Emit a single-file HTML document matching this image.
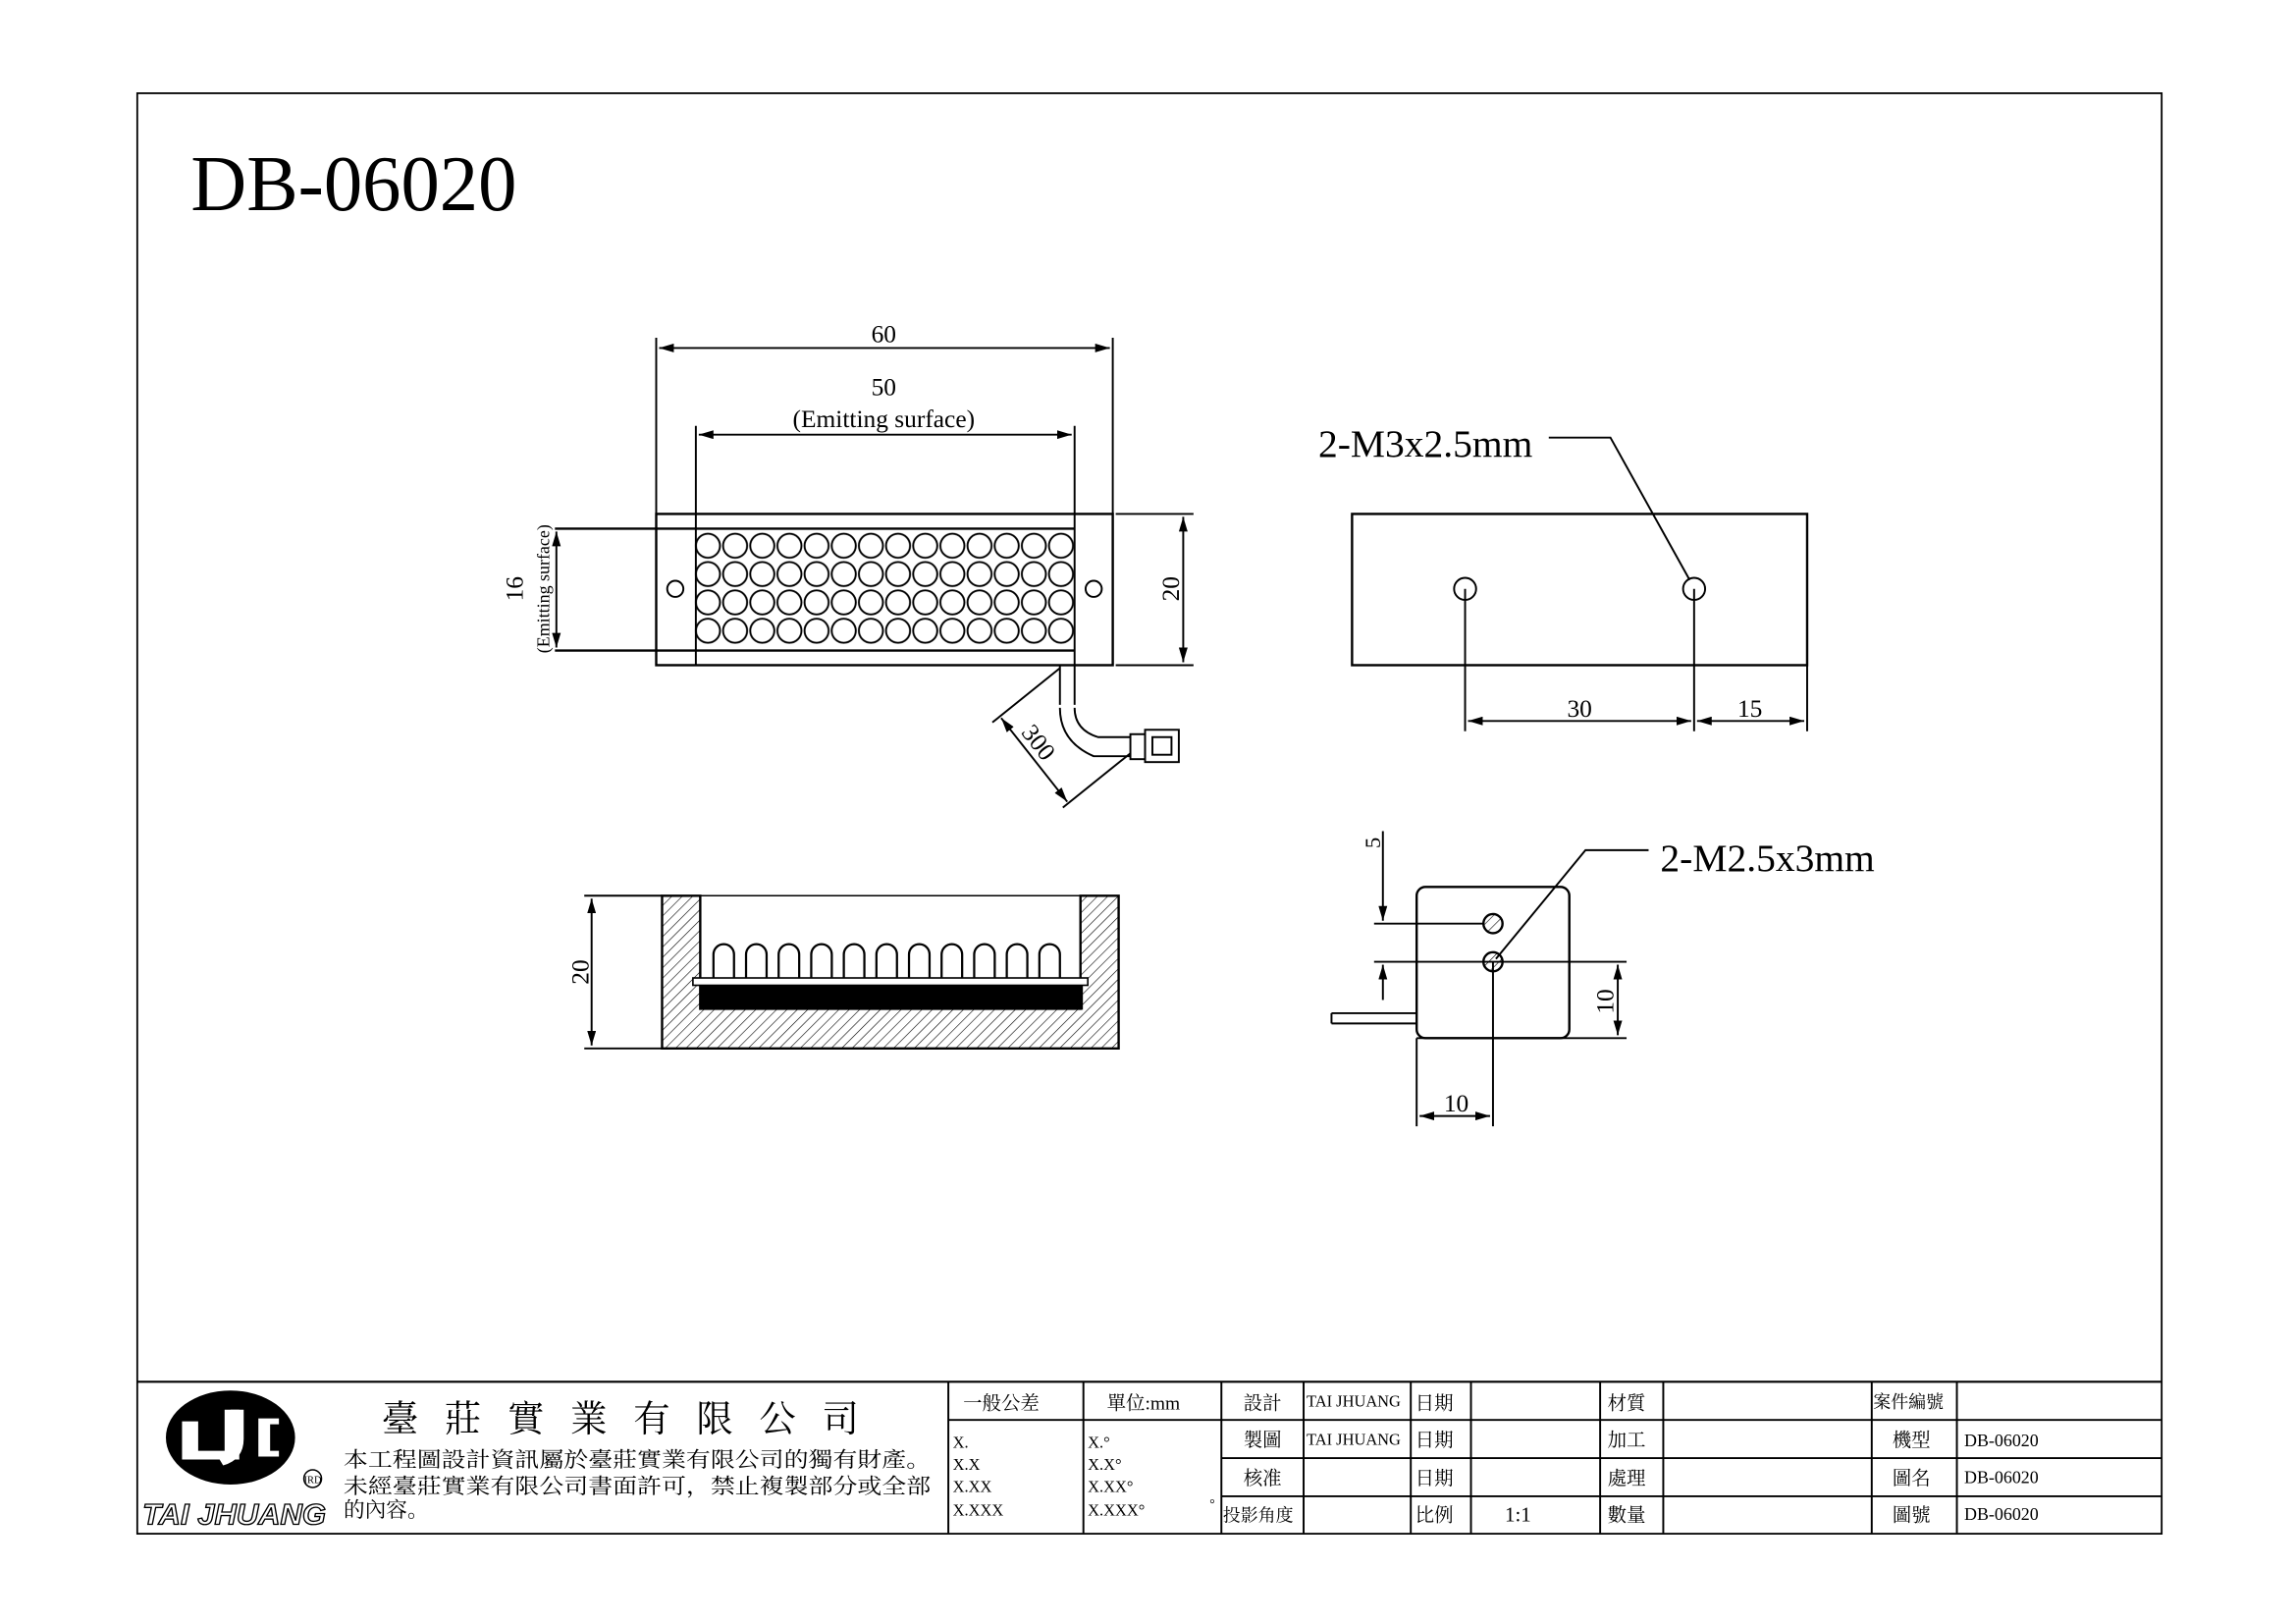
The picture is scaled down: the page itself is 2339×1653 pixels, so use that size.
<!DOCTYPE html>
<html><head><meta charset="utf-8">
<style>
html,body{margin:0;padding:0;background:#fff;}
svg{display:block;}
text{font-family:"Liberation Serif","Noto Serif CJK SC",serif;fill:#000;}
.cj{font-family:"Liberation Serif","Noto Serif CJK SC","Noto Sans CJK TC",serif;}
</style></head>
<body>
<svg width="2339" height="1653" viewBox="0 0 1564 1105.3" preserveAspectRatio="none" xmlns="http://www.w3.org/2000/svg">
<defs>
<pattern id="leds" patternUnits="userSpaceOnUse" x="473" y="362" width="18.5" height="19.3">
<circle cx="9.25" cy="9.65" r="8.2" fill="none" stroke="#000" stroke-width="1.3"/>
</pattern>
<pattern id="hatch" patternUnits="userSpaceOnUse" width="5" height="5" patternTransform="rotate(45)">
<line x1="0" y1="0" x2="0" y2="5" stroke="#000" stroke-width="0.8"/>
</pattern>
<marker id="ar" viewBox="0 0 10 6" refX="10" refY="3" markerWidth="10" markerHeight="6" markerUnits="userSpaceOnUse" orient="auto-start-reverse">
<path d="M0,0 L10,3 L0,6 z" fill="#000"/>
</marker>
</defs>
<rect width="1564" height="1105.3" fill="#fff"/>
<!-- border -->
<rect x="93.5" y="63.5" width="1379" height="981" fill="none" stroke="#000" stroke-width="1.2"/>
<text x="130" y="143" font-size="54" textLength="222" lengthAdjust="spacingAndGlyphs">DB-06020</text>

<g stroke="#000" fill="none" stroke-width="1.3">
<!-- front view -->
<rect x="447" y="350" width="311" height="103" stroke-width="1.6"/>
<line x1="474" y1="350" x2="474" y2="453"/>
<line x1="732" y1="350" x2="732" y2="453"/>
<line x1="378" y1="360" x2="732" y2="360" stroke-width="1.6"/>
<line x1="378" y1="443" x2="732" y2="443" stroke-width="1.6"/>
<rect x="473" y="362" width="259" height="77.2" fill="url(#leds)" stroke="none"/>
<circle cx="460" cy="401" r="5.5"/>
<circle cx="745" cy="401" r="5.5"/>
<!-- dims -->
<line x1="447" y1="230" x2="447" y2="350"/>
<line x1="758" y1="230" x2="758" y2="350"/>
<line x1="449" y1="237" x2="756" y2="237" marker-start="url(#ar)" marker-end="url(#ar)"/>
<line x1="474" y1="290" x2="474" y2="350"/>
<line x1="732" y1="290" x2="732" y2="350"/>
<line x1="476" y1="296" x2="730" y2="296" marker-start="url(#ar)" marker-end="url(#ar)"/>
<line x1="760" y1="350" x2="813" y2="350"/>
<line x1="760" y1="453" x2="813" y2="453"/>
<line x1="806" y1="352" x2="806" y2="451" marker-start="url(#ar)" marker-end="url(#ar)"/>
<line x1="379" y1="362" x2="379" y2="441" marker-start="url(#ar)" marker-end="url(#ar)"/>
<!-- cable -->
<line x1="722" y1="453" x2="722" y2="480"/>
<line x1="732" y1="453" x2="732" y2="480"/>
<path d="M722,482 Q722,505 745,515 L770,515"/>
<path d="M732,482 Q732,497 748,502 L770,502"/>
<rect x="770" y="500" width="10" height="17"/>
<rect x="780" y="497" width="23" height="22"/>
<rect x="785" y="502" width="13" height="12"/>
<line x1="722" y1="455" x2="676" y2="492"/>
<line x1="770" y1="513" x2="724" y2="550"/>
<line x1="682" y1="489" x2="727" y2="546" marker-start="url(#ar)" marker-end="url(#ar)"/>

<!-- side view -->
<path d="M451,610 H477 V687 H736 V610 H762 V714 H451 Z" fill="url(#hatch)" stroke-width="1.6"/>
<line x1="477" y1="610" x2="736" y2="610" stroke-width="1"/>
<rect x="477" y="671" width="260" height="16" fill="#000"/>
<rect x="472" y="666" width="269" height="5" fill="#fff" stroke-width="1.1"/>
<g stroke-width="1.5">
<path d="M486,666 V650 a7,7 0 0 1 14,0 V666"/>
<path d="M508.2,666 V650 a7,7 0 0 1 14,0 V666"/>
<path d="M530.4,666 V650 a7,7 0 0 1 14,0 V666"/>
<path d="M552.6,666 V650 a7,7 0 0 1 14,0 V666"/>
<path d="M574.8,666 V650 a7,7 0 0 1 14,0 V666"/>
<path d="M597,666 V650 a7,7 0 0 1 14,0 V666"/>
<path d="M619.2,666 V650 a7,7 0 0 1 14,0 V666"/>
<path d="M641.4,666 V650 a7,7 0 0 1 14,0 V666"/>
<path d="M663.6,666 V650 a7,7 0 0 1 14,0 V666"/>
<path d="M685.8,666 V650 a7,7 0 0 1 14,0 V666"/>
<path d="M708,666 V650 a7,7 0 0 1 14,0 V666"/>
</g>
<line x1="398" y1="610" x2="451" y2="610"/>
<line x1="398" y1="714" x2="451" y2="714"/>
<line x1="403" y1="612" x2="403" y2="712" marker-start="url(#ar)" marker-end="url(#ar)"/>

<!-- top right view -->
<rect x="921" y="350" width="310" height="103" stroke-width="1.6"/>
<circle cx="998" cy="401" r="7.5"/>
<circle cx="1154" cy="401" r="7.5"/>
<line x1="998" y1="401" x2="998" y2="498"/>
<line x1="1154" y1="401" x2="1154" y2="498"/>
<line x1="1231" y1="453" x2="1231" y2="498"/>
<line x1="1000" y1="491" x2="1152" y2="491" marker-start="url(#ar)" marker-end="url(#ar)"/>
<line x1="1156" y1="491" x2="1229" y2="491" marker-start="url(#ar)" marker-end="url(#ar)"/>
<polyline points="1055,298 1097,298 1151,395"/>

<!-- bottom right view -->
<rect x="965" y="604" width="104" height="103" rx="6" stroke-width="1.6"/>
<circle cx="1017" cy="629" r="6.5" fill="url(#hatch)" stroke-width="1.6"/>
<circle cx="1017" cy="655" r="6.5" fill="url(#hatch)" stroke-width="1.6"/>
<line x1="936" y1="629" x2="1011" y2="629"/>
<line x1="936" y1="655" x2="1108" y2="655"/>
<line x1="965" y1="707" x2="1108" y2="707"/>
<line x1="942" y1="566" x2="942" y2="627" marker-end="url(#ar)"/>
<line x1="942" y1="681" x2="942" y2="657" marker-end="url(#ar)"/>
<line x1="1102" y1="657" x2="1102" y2="705" marker-start="url(#ar)" marker-end="url(#ar)"/>
<line x1="965" y1="707" x2="965" y2="767"/>
<line x1="1017" y1="655" x2="1017" y2="767"/>
<line x1="967" y1="760" x2="1015" y2="760" marker-start="url(#ar)" marker-end="url(#ar)"/>
<line x1="907" y1="690" x2="965" y2="690"/>
<line x1="907" y1="697" x2="965" y2="697"/>
<line x1="907" y1="690" x2="907" y2="697"/>
<polyline points="1019,653 1080,579 1123,579"/>

<!-- title block -->
<line x1="93" y1="941" x2="1472" y2="941" stroke-width="1.4"/>
<line x1="646" y1="941" x2="646" y2="1044"/>
<line x1="738" y1="941" x2="738" y2="1044"/>
<line x1="646" y1="967" x2="832" y2="967"/>
<line x1="832" y1="941" x2="832" y2="1044"/>
<line x1="888" y1="941" x2="888" y2="1044"/>
<line x1="961" y1="941" x2="961" y2="1044"/>
<line x1="1002" y1="941" x2="1002" y2="1044"/>
<line x1="1090" y1="941" x2="1090" y2="1044"/>
<line x1="1133" y1="941" x2="1133" y2="1044"/>
<line x1="1275" y1="941" x2="1275" y2="1044"/>
<line x1="1333" y1="941" x2="1333" y2="1044"/>
<line x1="832" y1="967" x2="1472" y2="967"/>
<line x1="832" y1="993" x2="1472" y2="993"/>
<line x1="832" y1="1019" x2="1472" y2="1019"/>
</g>

<!-- dim texts -->
<text x="602" y="233" font-size="17" text-anchor="middle">60</text>
<text x="602" y="269" font-size="17" text-anchor="middle">50</text>
<text x="602" y="291" font-size="17" text-anchor="middle">(Emitting surface)</text>
<text transform="translate(803,401) rotate(-90)" font-size="17" text-anchor="middle">20</text>
<text transform="translate(356,401) rotate(-90)" font-size="17" text-anchor="middle">16</text>
<text transform="translate(374,401) rotate(-90)" font-size="12" text-anchor="middle">(Emitting surface)</text>
<text transform="translate(703,509) rotate(52)" font-size="17" text-anchor="middle">300</text>
<text transform="translate(401,662) rotate(-90)" font-size="17" text-anchor="middle">20</text>
<text x="1076" y="488" font-size="17" text-anchor="middle">30</text>
<text x="1192" y="488" font-size="17" text-anchor="middle">15</text>
<text x="898" y="311" font-size="26" textLength="146" lengthAdjust="spacingAndGlyphs">2-M3x2.5mm</text>
<text x="1131" y="593" font-size="26" textLength="146" lengthAdjust="spacingAndGlyphs">2-M2.5x3mm</text>
<text transform="translate(940,574) rotate(-90)" font-size="15" text-anchor="middle">5</text>
<text transform="translate(1099,682) rotate(-90)" font-size="17" text-anchor="middle">10</text>
<text x="992" y="757" font-size="17" text-anchor="middle">10</text>

<!-- logo -->
<ellipse cx="157" cy="979" rx="44" ry="32" fill="#000"/>
<path d="M124,968 h11 v20 h18 v-28 h10 v34 h-39 z" fill="#fff"/>
<path d="M157,960 h9 v20 q0,14 -14,18 l-3,-5 q8,-3 8,-12 z" fill="#fff"/>
<path d="M190,966 h-14 v26 h14 v-4 h-6 v-18 h6 z" fill="#fff"/>
<circle cx="213" cy="1007" r="6" fill="none" stroke="#000" stroke-width="1"/>
<text x="213" y="1010" font-size="7" text-anchor="middle">IRD</text>
<text x="97" y="1038" font-size="20" font-style="italic" font-weight="bold" textLength="125" lengthAdjust="spacingAndGlyphs" style="font-family:'Liberation Sans',sans-serif;fill:#fff;stroke:#000;stroke-width:0.9">TAI JHUANG</text>

<g class="cj">
<text x="260" y="975" font-size="25" class="cj" textLength="325" lengthAdjust="spacing">臺莊實業有限公司</text>
<text x="234" y="999" font-size="14.5" class="cj" textLength="400" lengthAdjust="spacingAndGlyphs">本工程圖設計資訊屬於臺莊實業有限公司的獨有財產。</text>
<text x="234" y="1017" font-size="14.5" class="cj" textLength="400" lengthAdjust="spacingAndGlyphs">未經臺莊實業有限公司書面許可，禁止複製部分或全部</text>
<text x="234" y="1033" font-size="14.5" class="cj">的內容。</text>
<text x="656" y="960" font-size="13" class="cj">一般公差</text>
<text x="754" y="960" font-size="13" class="cj">單位:mm</text>
<text x="649" y="986" font-size="11">X.</text>
<text x="649" y="1001" font-size="11">X.X</text>
<text x="649" y="1016" font-size="11">X.XX</text>
<text x="649" y="1032" font-size="11">X.XXX</text>
<text x="741" y="986" font-size="11">X.°</text>
<text x="741" y="1001" font-size="11">X.X°</text>
<text x="741" y="1016" font-size="11">X.XX°</text>
<text x="741" y="1032" font-size="11">X.XXX°</text>
<text x="824" y="1027" font-size="9">°</text>
<text x="847" y="960" font-size="13" class="cj">設計</text>
<text x="847" y="985" font-size="13" class="cj">製圖</text>
<text x="847" y="1011" font-size="13" class="cj">核准</text>
<text x="833" y="1036" font-size="12" class="cj">投影角度</text>
<text x="890" y="958" font-size="11">TAI JHUANG</text>
<text x="890" y="984" font-size="11">TAI JHUANG</text>
<text x="964" y="960" font-size="13" class="cj">日期</text>
<text x="964" y="985" font-size="13" class="cj">日期</text>
<text x="964" y="1011" font-size="13" class="cj">日期</text>
<text x="964" y="1036" font-size="13" class="cj">比例</text>
<text x="1034" y="1036" font-size="14" text-anchor="middle">1:1</text>
<text x="1095" y="960" font-size="13" class="cj">材質</text>
<text x="1095" y="985" font-size="13" class="cj">加工</text>
<text x="1095" y="1011" font-size="13" class="cj">處理</text>
<text x="1095" y="1036" font-size="13" class="cj">數量</text>
<text x="1276" y="959" font-size="12" class="cj">案件編號</text>
<text x="1289" y="985" font-size="13" class="cj">機型</text>
<text x="1289" y="1011" font-size="13" class="cj">圖名</text>
<text x="1289" y="1036" font-size="13" class="cj">圖號</text>
<text x="1338" y="985" font-size="12">DB-06020</text>
<text x="1338" y="1010" font-size="12">DB-06020</text>
<text x="1338" y="1035" font-size="12">DB-06020</text>
</g>
</svg>
</body></html>
